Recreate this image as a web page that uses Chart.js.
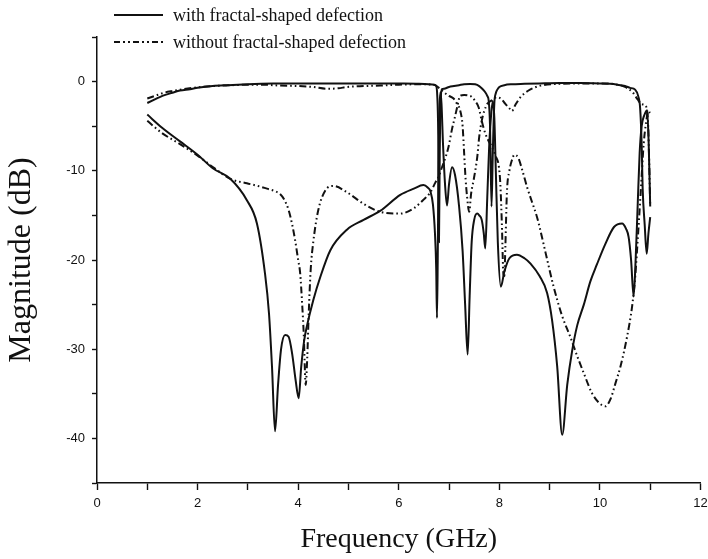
<!DOCTYPE html>
<html><head><meta charset="utf-8">
<style>html,body{margin:0;padding:0;background:#fff}#wrap{width:708px;height:559px}</style>
<script src="https://cdn.jsdelivr.net/npm/chart.js@4.4.1/dist/chart.umd.min.js"></script>
</head><body><div id="wrap"><canvas id="c" width="708" height="559" style="width:708px;height:559px"></canvas></div>
<script>
// ---- Data ----
const seriesLabels = ['with fractal-shaped defection', 'without fractal-shaped defection'];

// with fractal: S21 (top, passband)
const withS21Freq = [1.0,1.15,1.3,1.5,1.65,1.85,2.0,2.3,2.6,3.0,3.5,4.0,4.5,5.0,5.5,6.0,6.4,6.6,6.7,6.74,6.765,6.785,6.80,6.815,6.835,6.86,6.9,7.0,7.1,7.2,7.3,7.42,7.52,7.6,7.66,7.72,7.76,7.79,7.815,7.845,7.87,7.9,7.93,7.96,8.0,8.1,8.25,8.5,8.8,9.2,9.6,10.0,10.2,10.35,10.5,10.6,10.7,10.76,10.8,10.83,10.85,10.89,10.93,10.965,11.0];
const withS21Mag  = [-2.4,-2.0,-1.6,-1.25,-1.0,-0.85,-0.7,-0.5,-0.4,-0.3,-0.22,-0.2,-0.2,-0.2,-0.2,-0.22,-0.25,-0.3,-0.35,-0.45,-1.5,-6,-18,-8,-2,-0.85,-0.8,-0.6,-0.5,-0.4,-0.3,-0.26,-0.3,-0.5,-0.8,-1.2,-1.6,-2.2,-5,-14,-8,-2.5,-1.3,-0.9,-0.6,-0.4,-0.3,-0.25,-0.2,-0.15,-0.15,-0.2,-0.25,-0.35,-0.5,-0.7,-0.9,-1.6,-3,-7,-12,-16,-19.3,-17,-15.2];

// with fractal: S11 (lower)
const withS11Freq = [1.0,1.3,1.65,2.0,2.31,2.65,2.98,3.18,3.34,3.42,3.48,3.54,3.6,3.66,3.74,3.81,3.88,3.95,4.01,4.06,4.12,4.17,4.3,4.44,4.64,4.97,5.3,5.63,6.03,6.3,6.49,6.58,6.63,6.68,6.72,6.745,6.76,6.775,6.79,6.81,6.83,6.85,6.88,6.92,6.96,7.0,7.06,7.12,7.2,7.27,7.32,7.37,7.41,7.45,7.5,7.56,7.6,7.65,7.69,7.72,7.76,7.8,7.84,7.87,7.9,7.93,7.97,8.03,8.1,8.2,8.35,8.5,8.62,8.8,8.95,9.05,9.15,9.25,9.35,9.45,9.55,9.68,9.81,9.94,10.1,10.28,10.44,10.52,10.57,10.62,10.67,10.71,10.75,10.79,10.83,10.88,10.94,10.97,11.0];
const withS11Mag  = [-3.7,-5.2,-6.7,-8.2,-9.75,-10.9,-13.3,-15.9,-21.5,-26,-32,-39.2,-34,-30,-28.4,-28.6,-30.5,-33.5,-35.5,-32,-29,-27.5,-24.5,-21.9,-18.9,-16.6,-15.5,-14.5,-12.7,-12.0,-11.6,-11.9,-12.3,-13.8,-17,-21,-26.5,-20,-10,-3,-1.2,-2.5,-7,-11.5,-13.9,-11.5,-9.6,-10.5,-14,-19,-25,-30.6,-24,-18,-15.5,-14.8,-15,-15.5,-17,-18.7,-13,-7,-3.5,-2.2,-4,-10,-18,-23,-21.3,-19.8,-19.4,-19.8,-20.4,-21.8,-23.7,-26.8,-31.9,-39.6,-34,-30.1,-27.3,-25.0,-22.4,-20.5,-18.3,-16.3,-15.9,-16.5,-17.4,-20,-24.1,-20,-14,-8,-5,-3.8,-3.2,-7,-14];

// without fractal: S21 (top, passband)
const woS21Freq = [1.0,1.15,1.3,1.5,1.65,2.0,2.3,2.6,3.0,3.3,3.64,4.0,4.3,4.57,4.8,4.97,5.3,5.63,6.0,6.4,6.7,6.8,6.9,7.0,7.09,7.16,7.22,7.27,7.3,7.33,7.36,7.4,7.44,7.49,7.56,7.6,7.65,7.7,7.76,7.85,7.95,8.05,8.12,8.2,8.25,8.32,8.42,8.58,8.82,9.2,9.6,10.0,10.3,10.5,10.65,10.75,10.82,10.88,10.93,10.96,10.98,11.0];
const woS21Mag  = [-1.9,-1.6,-1.3,-1.05,-0.9,-0.65,-0.5,-0.42,-0.35,-0.35,-0.45,-0.5,-0.6,-0.8,-0.75,-0.6,-0.5,-0.45,-0.35,-0.3,-0.35,-0.7,-1.2,-1.6,-1.9,-2.5,-3.2,-5,-8,-11,-13,-14.6,-12.5,-11,-8.5,-6.2,-4.4,-3.3,-2.5,-2.1,-1.75,-2.0,-2.5,-3.0,-3.3,-2.6,-1.75,-1.0,-0.45,-0.25,-0.2,-0.2,-0.3,-0.6,-1.2,-2.0,-2.5,-2.6,-3,-5,-9,-14];

// without fractal: S11 (lower)
const woS11Freq = [1.0,1.3,1.65,2.0,2.31,2.65,2.98,3.2,3.38,3.55,3.64,3.72,3.81,3.88,3.94,4.0,4.04,4.08,4.11,4.15,4.18,4.21,4.25,4.3,4.4,4.54,4.7,4.97,5.3,5.63,6.03,6.3,6.5,6.63,6.73,6.79,6.86,6.93,6.99,7.06,7.12,7.16,7.22,7.3,7.38,7.45,7.52,7.59,7.65,7.72,7.8,7.85,7.93,7.99,8.02,8.05,8.08,8.1,8.12,8.15,8.2,8.25,8.3,8.38,8.46,8.55,8.65,8.75,8.92,9.08,9.25,9.41,9.55,9.68,9.84,9.98,10.11,10.21,10.31,10.41,10.54,10.64,10.7,10.76,10.81,10.87,10.92,10.96,11.0];
const woS11Mag  = [-4.4,-5.8,-7.0,-8.3,-9.6,-10.9,-11.4,-11.7,-12.0,-12.3,-12.6,-13.2,-14.4,-16,-17.8,-20,-21.5,-25,-28.2,-34,-31,-26,-21,-18,-14.4,-12.2,-11.7,-12.4,-13.7,-14.6,-14.8,-14.2,-13.2,-12.4,-11.3,-10.7,-9.6,-8.5,-7.3,-5.3,-3.9,-2.9,-1.6,-1.5,-1.55,-1.7,-2.2,-2.9,-4.4,-5.8,-6.8,-7.3,-8.4,-9.5,-11.5,-15.9,-21.5,-21.8,-18.5,-12.5,-10,-8.8,-8.2,-8.6,-10,-11.8,-13.5,-15.2,-19.2,-23.0,-26.3,-28.6,-30.8,-32.7,-34.9,-36.0,-36.4,-35.6,-33.8,-31.9,-28.6,-25.2,-22,-17,-12.5,-7,-4.5,-3.3,-3.5];

// axis ticks
const xMin = 0, xMax = 12, xStep = 1, xLabelEvery = 2;
const yMin = -45, yMax = 5, yStep = 5, yLabelEvery = 10, yLabelMin = -40, yLabelMax = 0;

// ---- Build chart ----
const ink = '#111111';
const dashDot = [7, 3, 1.6, 3, 1.6, 3];
const toPts = (xs, ys) => xs.map((x, i) => ({x: x, y: ys[i]}));
const mk = (label, xs, ys, dash) => ({
  label: label, data: toPts(xs, ys), showLine: true, borderColor: ink, backgroundColor: ink,
  borderWidth: 2, borderDash: dash, pointRadius: 0, pointHoverRadius: 0,
  cubicInterpolationMode: 'monotone', fill: false, borderCapStyle: 'butt', borderJoinStyle: 'round'
});

const legendPlugin = {
  id: 'customLegend',
  afterDraw(chart) {
    const ctx = chart.ctx;
    const items = [{label: seriesLabels[0], dash: []}, {label: seriesLabels[1], dash: [6, 3, 2, 3, 2, 3]}];
    ctx.save();
    items.forEach((it, i) => {
      const y = 15 + i * 27;
      ctx.strokeStyle = ink; ctx.lineWidth = 2; ctx.setLineDash(it.dash);
      ctx.beginPath(); ctx.moveTo(114, y); ctx.lineTo(163, y); ctx.stroke();
      ctx.setLineDash([]);
      ctx.fillStyle = ink; ctx.font = '18px "Liberation Serif", "Times New Roman", serif';
      ctx.textBaseline = 'middle'; ctx.textAlign = 'left';
      ctx.fillText(it.label, 173, y + 1);
    });
    ctx.restore();
  }
};

const tickFont = {family: '"Liberation Sans", Arial, sans-serif', size: 13};

new Chart(document.getElementById('c'), {
  type: 'scatter',
  data: {datasets: [
    mk(seriesLabels[0] + ' S21', withS21Freq, withS21Mag, []),
    mk(seriesLabels[0] + ' S11', withS11Freq, withS11Mag, []),
    mk(seriesLabels[1] + ' S21', woS21Freq, woS21Mag, dashDot),
    mk(seriesLabels[1] + ' S11', woS11Freq, woS11Mag, dashDot)
  ]},
  options: {
    responsive: false, animation: false, devicePixelRatio: 1,
    layout: {padding: {left: 0, right: 7.5, top: 37, bottom: 0}},
    plugins: {legend: {display: false}, tooltip: {enabled: false}},
    scales: {
      x: {
        type: 'linear', min: xMin, max: xMax,
        ticks: {stepSize: xStep, autoSkip: false, maxRotation: 0, padding: 6, color: ink, font: tickFont,
          callback: v => (v % xLabelEvery === 0 ? String(v) : '')},
        grid: {drawOnChartArea: false, drawTicks: true, tickLength: 7, tickColor: ink, tickWidth: 1.4},
        border: {display: true, color: ink, width: 1.5},
        title: {display: true, text: 'Frequency (GHz)', color: ink,
          font: {family: '"Liberation Serif", "Times New Roman", serif', size: 28}, padding: {top: 0, bottom: 3}},
        afterFit: s => { s.height = 76; s.paddingLeft = 0; s.paddingRight = 0; }
      },
      y: {
        type: 'linear', min: yMin, max: yMax,
        ticks: {stepSize: yStep, autoSkip: false, padding: 7, color: ink, font: tickFont,
          callback: v => ((v % yLabelEvery === 0 && v >= yLabelMin && v <= yLabelMax) ? String(v) : '')},
        grid: {drawOnChartArea: false, drawTicks: true, tickLength: 5, tickColor: ink, tickWidth: 1.4},
        border: {display: true, color: ink, width: 1.5},
        title: {display: true, text: 'Magnitude (dB)', color: ink,
          font: {family: '"Liberation Serif", "Times New Roman", serif', size: 32}, padding: {top: 2, bottom: 0}},
        afterFit: s => { s.width = 97; s.paddingTop = 0; s.paddingBottom = 0; }
      }
    }
  },
  plugins: [legendPlugin]
});
</script></body></html>
